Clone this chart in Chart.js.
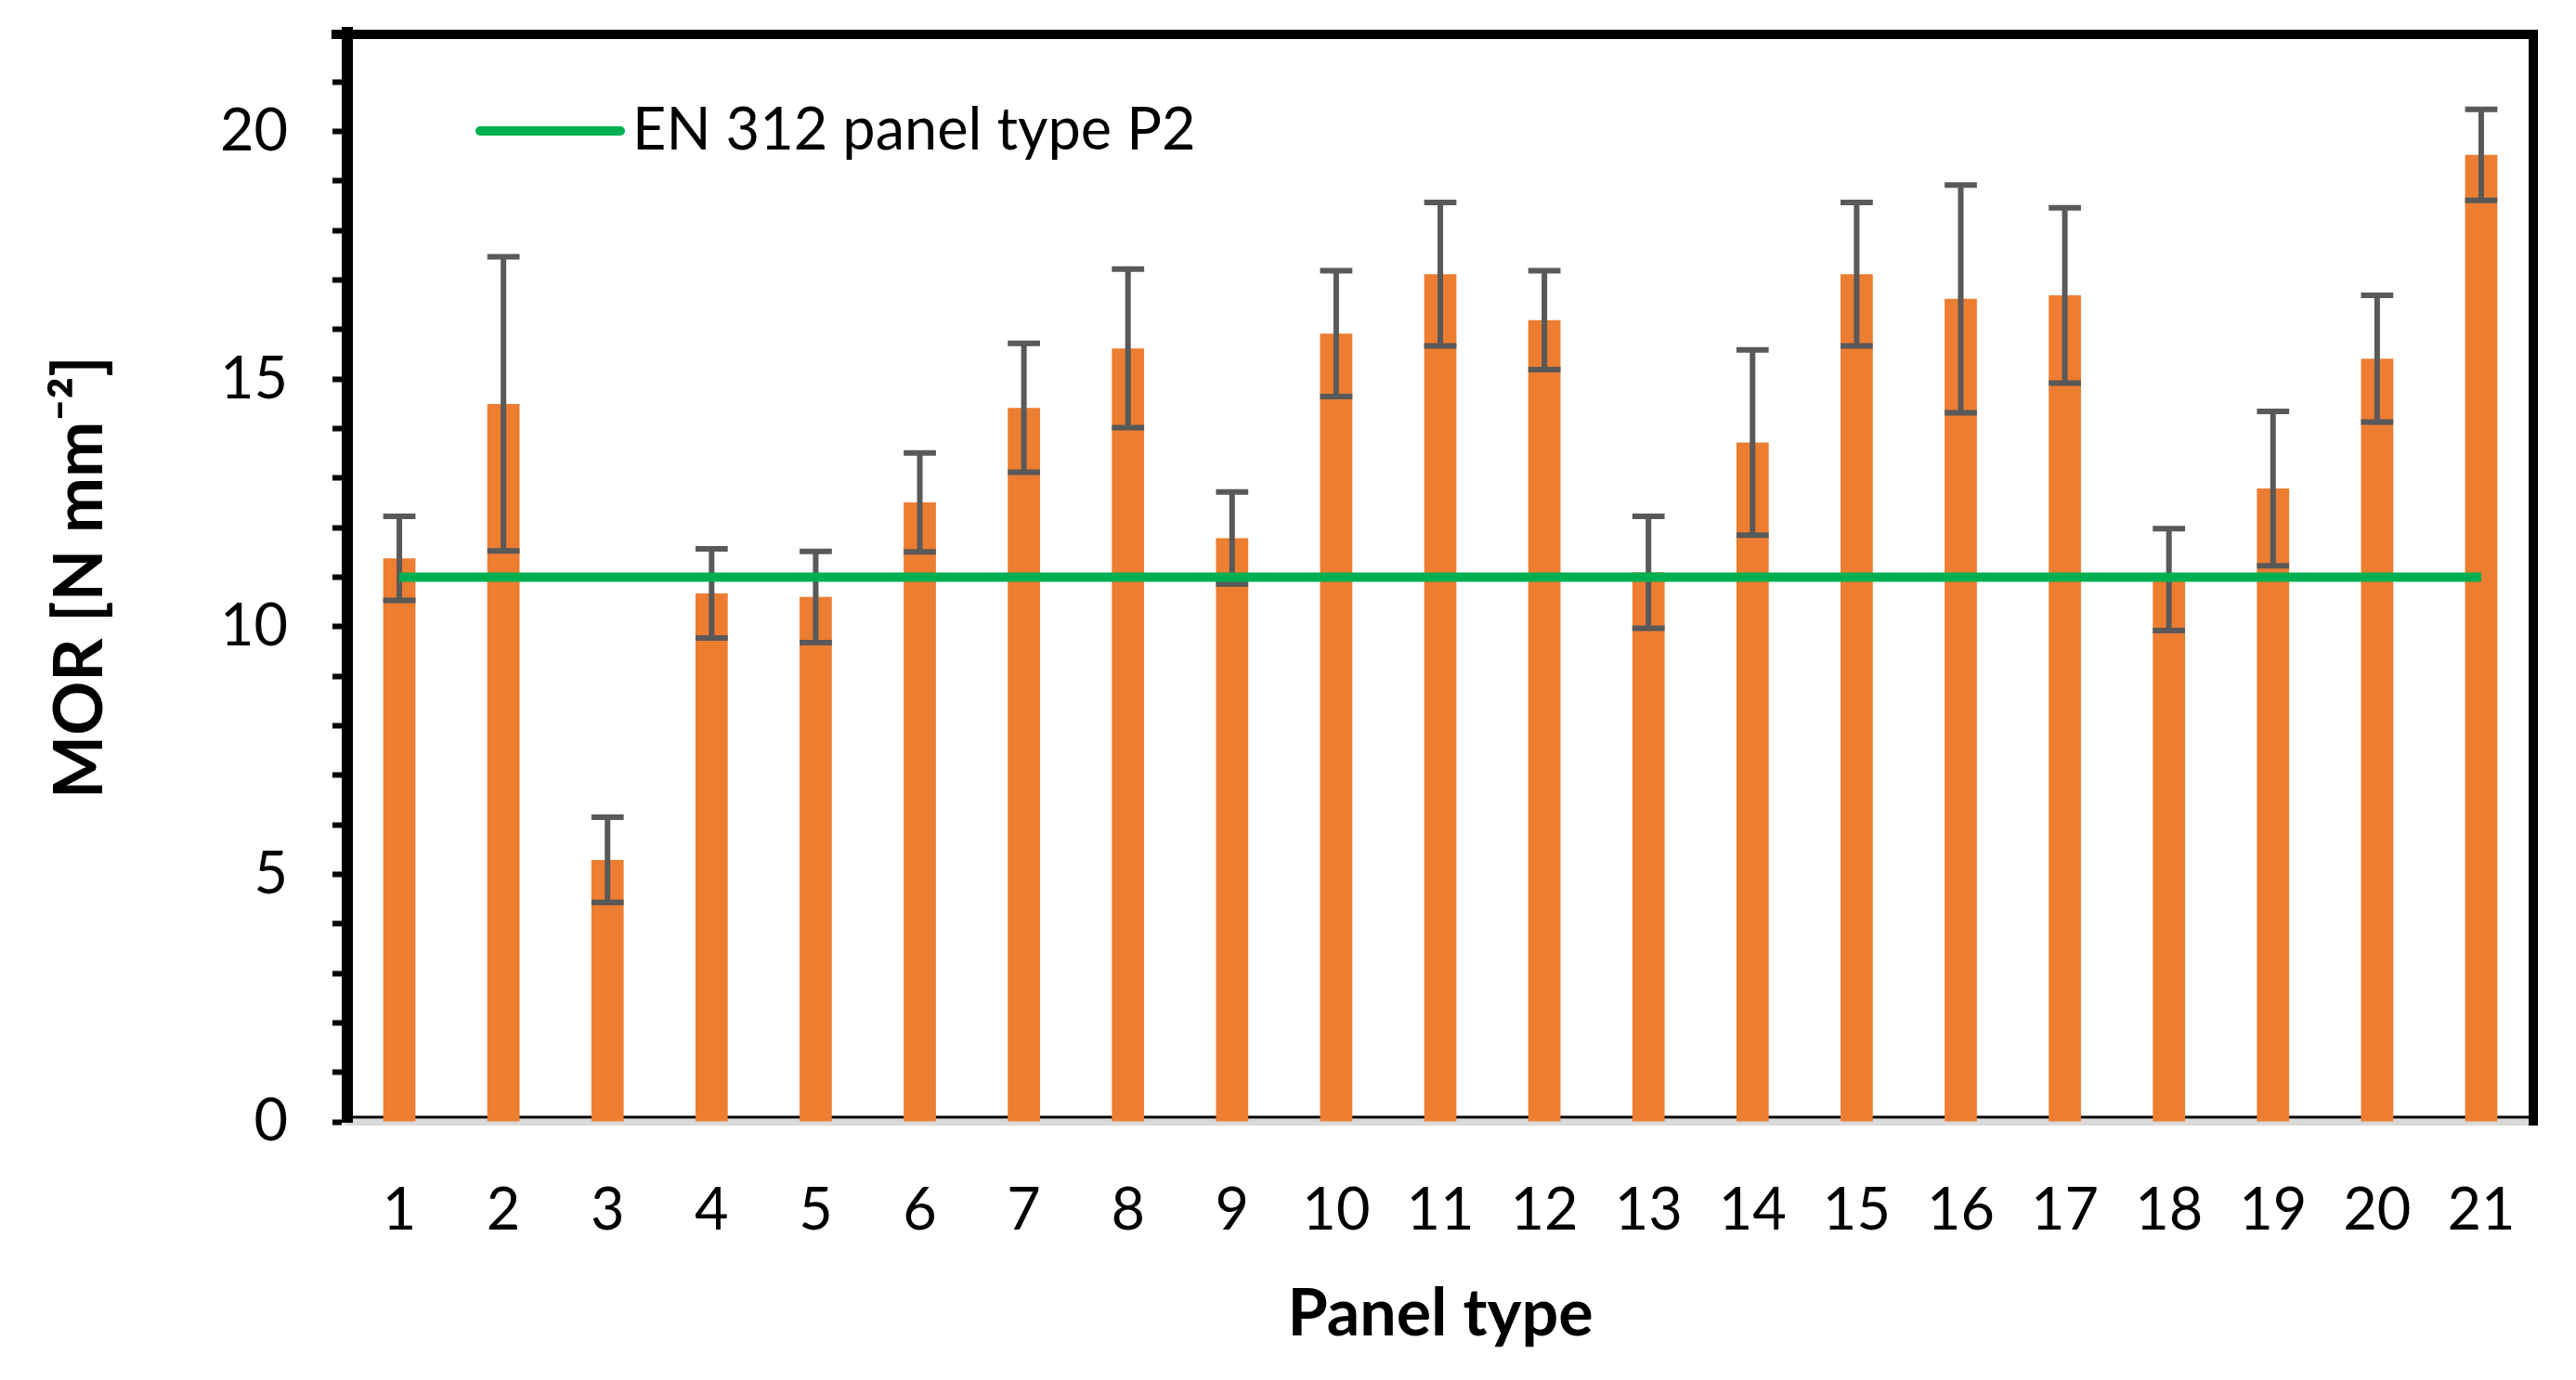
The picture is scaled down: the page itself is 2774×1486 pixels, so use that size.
<!DOCTYPE html>
<html>
<head>
<meta charset="utf-8">
<title>MOR by panel type</title>
<script src="https://cdn.jsdelivr.net/npm/chart.js@4.4.1/dist/chart.umd.min.js"></script>
<style>
  html, body { margin: 0; padding: 0; background: #ffffff; }
  #chart-wrap { width: 2774px; height: 1486px; }
</style>
</head>
<body>
<div id="chart-wrap"><canvas id="morChart" width="2774" height="1486"></canvas></div>
<script>
// panel types on the x axis
const panelTypes = ["1", "2", "3", "4", "5", "6", "7", "8", "9", "10", "11",
  "12", "13", "14", "15", "16", "17", "18", "19", "20", "21"];

// mean MOR per panel type [N mm-2]
const morMean = [11.38, 14.5, 5.29, 10.67, 10.6, 12.51, 14.42, 15.62, 11.79, 15.92, 17.12,
  16.19, 11.1, 13.72, 17.12, 16.62, 16.69, 10.95, 12.79, 15.41, 19.53];

// standard deviation (error bar half-length)
const morSd = [0.85, 2.97, 0.86, 0.9, 0.92, 1.0, 1.3, 1.6, 0.93, 1.27, 1.45,
  1.0, 1.13, 1.87, 1.45, 2.3, 1.77, 1.03, 1.56, 1.28, 0.92];

// EN 312 requirement for panel type P2
const en312P2 = [11, 11, 11, 11, 11, 11, 11, 11, 11, 11, 11,
  11, 11, 11, 11, 11, 11, 11, 11, 11, 11];

// y axis: 0..22, a tick every 1, a label every 5
const yMin = 0;
const yMax = 22;
const yStep = 1;
const yLabelEvery = 5;

const barColor = "#ED7D31";
const errorColor = "#595959";
const limitColor = "#00B050";
const fontFamily = "Lato, 'Open Sans', 'Liberation Sans', sans-serif";

// error bars drawn right after the bars, so the green line sits on top
const errorBarPlugin = {
  id: "errorBars",
  afterDatasetDraw(chart, args) {
    if (args.index !== 0) return;
    const { ctx } = chart;
    const yScale = chart.scales.y;
    ctx.save();
    ctx.strokeStyle = errorColor;
    ctx.lineWidth = 6;
    ctx.lineCap = "butt";
    args.meta.data.forEach((bar, i) => {
      const top = yScale.getPixelForValue(morMean[i] + morSd[i]);
      const bottom = yScale.getPixelForValue(morMean[i] - morSd[i]);
      const half = bar.width / 2;
      ctx.beginPath();
      ctx.moveTo(bar.x, top);
      ctx.lineTo(bar.x, bottom);
      ctx.moveTo(bar.x - half, top);
      ctx.lineTo(bar.x + half, top);
      ctx.moveTo(bar.x - half, bottom);
      ctx.lineTo(bar.x + half, bottom);
      ctx.stroke();
    });
    ctx.restore();
  },
};

// heavy frame round the plot (top + right), thin black base line
const framePlugin = {
  id: "plotFrame",
  beforeDatasetsDraw(chart) {
    const { ctx, chartArea: a } = chart;
    ctx.save();
    ctx.strokeStyle = "#000000";
    ctx.lineWidth = 3;
    ctx.beginPath();
    ctx.moveTo(a.left, a.bottom - 5);
    ctx.lineTo(a.right, a.bottom - 5);
    ctx.stroke();
    ctx.lineWidth = 10;
    ctx.beginPath();
    ctx.moveTo(a.left - 17, a.top + 2);
    ctx.lineTo(a.right + 5, a.top + 2);
    ctx.moveTo(a.right, a.top - 3);
    ctx.lineTo(a.right, a.bottom + 4);
    ctx.stroke();
    ctx.restore();
  },
};

// legend sitting inside the plot, top left
const insideLegendPlugin = {
  id: "insideLegend",
  afterDraw(chart) {
    const { ctx, chartArea: a } = chart;
    const ds = chart.data.datasets[1];
    const y = a.top + 106;
    ctx.save();
    ctx.strokeStyle = ds.borderColor;
    ctx.lineWidth = 10;
    ctx.lineCap = "round";
    ctx.beginPath();
    ctx.moveTo(a.left + 143, y);
    ctx.lineTo(a.left + 294, y);
    ctx.stroke();
    ctx.fillStyle = "#000000";
    ctx.font = "63px " + fontFamily;
    ctx.textBaseline = "middle";
    ctx.textAlign = "left";
    ctx.fillText(ds.label, a.left + 307, y);
    ctx.restore();
  },
};

const ctx = document.getElementById("morChart").getContext("2d");

new Chart(ctx, {
  type: "bar",
  data: {
    labels: panelTypes,
    datasets: [
      {
        label: "MOR",
        data: morMean,
        backgroundColor: barColor,
        borderWidth: 0,
        categoryPercentage: 1,
        barPercentage: 0.31,
        order: 2,
      },
      {
        type: "line",
        label: "EN 312 panel type P2",
        data: en312P2,
        borderColor: limitColor,
        backgroundColor: limitColor,
        borderWidth: 10,
        pointRadius: 0,
        fill: false,
        order: 1,
      },
    ],
  },
  options: {
    responsive: false,
    animation: false,
    events: [],
    layout: { padding: { top: 35, right: 46, bottom: 0, left: 0 } },
    plugins: {
      legend: { display: false },
      tooltip: { enabled: false },
    },
    scales: {
      x: {
        z: 1,
        grid: { display: false, drawTicks: false },
        border: { display: true, color: "#d9d9d9", width: 7 },
        ticks: {
          color: "#000000",
          font: { family: fontFamily, size: 63 },
          padding: 58,
          maxRotation: 0,
          autoSkip: false,
        },
        title: {
          display: true,
          text: "Panel type",
          color: "#000000",
          font: { family: fontFamily, size: 70, weight: "bold" },
          padding: { top: 0, bottom: 29 },
        },
        afterFit(scale) {
          scale.height = 278;
          scale.paddingLeft = 0;
          scale.paddingRight = 0;
        },
      },
      y: {
        min: yMin,
        max: yMax,
        grid: {
          drawOnChartArea: false,
          drawTicks: true,
          tickLength: 16,
          tickWidth: 6,
          tickColor: "#000000",
        },
        border: { display: true, color: "#000000", width: 12 },
        ticks: {
          stepSize: yStep,
          autoSkip: false,
          color: "#000000",
          font: { family: fontFamily, size: 63 },
          padding: 48,
          callback: (value) => (value % yLabelEvery === 0 ? value : ""),
        },
        title: {
          display: true,
          text: "MOR [N mm⁻²]",
          color: "#000000",
          font: { family: fontFamily, size: 72, weight: "bold" },
          padding: { top: 44, bottom: 0 },
        },
        afterFit(scale) {
          scale.width = 374;
          scale.paddingTop = 0;
          scale.paddingBottom = 0;
        },
      },
    },
  },
  plugins: [errorBarPlugin, framePlugin, insideLegendPlugin],
});
</script>
</body>
</html>
